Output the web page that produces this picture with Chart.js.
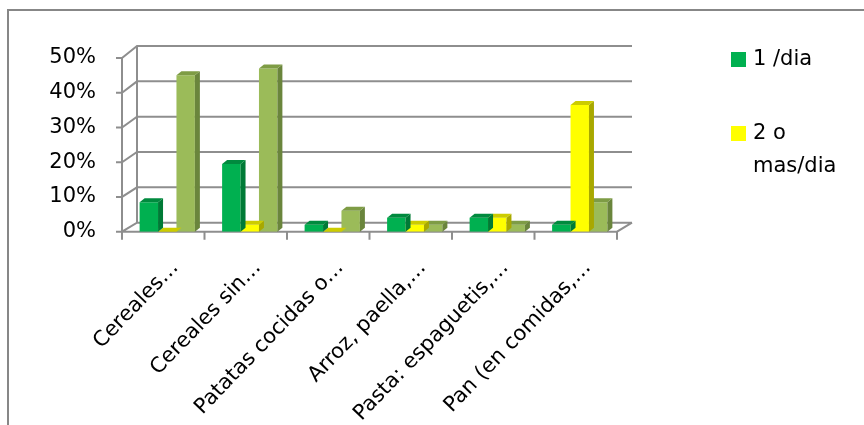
<!DOCTYPE html>
<html lang="es">
<head>
<meta charset="UTF-8">
<title>Consumo de cereales y derivados</title>
<script src="https://cdn.jsdelivr.net/npm/chart.js"></script>
<style>
  body { margin: 0; background: #fff; }
  #marco { position: absolute; left: 7px; top: 9px; width: 900px; height: 500px;
           border-top: 2px solid #878787; border-left: 2px solid #878787; }
  #grafico { position: absolute; left: 0; top: 0; }
</style>
</head>
<body>
<div id="marco"></div>
<canvas id="grafico" width="864" height="425"></canvas>
<script>
// categorias y porcentajes por frecuencia de consumo
const categorias = ['Cereales…', 'Cereales sin…', 'Patatas cocidas o…', 'Arroz, paella,…', 'Pasta: espaguetis,…', 'Pan (en comidas,…'];
const unaDia = [8.5, 19.5, 2, 4, 4, 2];
const dosOMasDia = [0, 2, 0, 2, 4, 36.5];
const otraFrecuencia = [45, 47, 6, 2, 2, 8.5];
const ticksY = [0, 10, 20, 30, 40, 50];

const fuente = 'DejaVu Sans';
const colorRejilla = '#8e8e8e';
const prof = { dx: 5, dy: -4 };           // fondo de cada columna
const pared = { dx: 15, dyAbajo: -9, dyArriba: -12 };
const desplCol = 4;                       // columnas algo metidas hacia el fondo

// pared del fondo, pared izquierda y suelo
const paredes = {
  id: 'paredes',
  beforeDatasetsDraw(chart) {
    const { ctx, chartArea: { left, right, bottom } } = chart;
    const y = chart.scales.y;
    const yFondo = v => y.getPixelForValue(v) + pared.dyAbajo + (pared.dyArriba - pared.dyAbajo) * v / 50;
    ctx.save();
    ctx.strokeStyle = colorRejilla;
    ctx.lineWidth = 2;
    ctx.beginPath();
    ticksY.forEach(v => {
      const yf = y.getPixelForValue(v);
      ctx.moveTo(left - 6, yf);
      ctx.lineTo(left, yf);
      ctx.lineTo(left + pared.dx, yFondo(v));
      ctx.lineTo(right + pared.dx, yFondo(v));
    });
    ctx.moveTo(left, y.getPixelForValue(50));
    ctx.lineTo(left, bottom);
    ctx.moveTo(left + pared.dx, yFondo(50));
    ctx.lineTo(left + pared.dx, yFondo(0));
    ctx.moveTo(left, bottom);
    ctx.lineTo(right, bottom);
    ctx.lineTo(right + pared.dx, yFondo(0));
    for (let i = 0; i <= categorias.length; i++) {
      const xc = left + (right - left) * i / categorias.length;
      ctx.moveTo(xc, bottom);
      ctx.lineTo(xc, bottom + 8);
    }
    ctx.stroke();
    ctx.restore();
  }
};

// cara superior y lateral de cada columna
const caras = {
  id: 'caras',
  beforeDatasetDraw(chart) {
    chart.ctx.save();
    chart.ctx.translate(desplCol, 0);
  },
  afterDatasetDraw(chart, args) {
    const { ctx } = chart;
    const ds = chart.data.datasets[args.index];
    args.meta.data.forEach(el => {
      const { x, y, base, width } = el.getProps(['x', 'y', 'base', 'width'], true);
      const l = x - width / 2, r = x + width / 2;
      ctx.fillStyle = ds.colorLado;
      ctx.beginPath();
      ctx.moveTo(r, y);
      ctx.lineTo(r + prof.dx, y + prof.dy);
      ctx.lineTo(r + prof.dx, base + prof.dy);
      ctx.lineTo(r, base);
      ctx.closePath();
      ctx.fill();
      ctx.fillStyle = ds.colorTapa;
      ctx.beginPath();
      ctx.moveTo(l, y);
      ctx.lineTo(r, y);
      ctx.lineTo(r + prof.dx, y + prof.dy);
      ctx.lineTo(l + prof.dx, y + prof.dy);
      ctx.closePath();
      ctx.fill();
    });
    ctx.restore();
  }
};

// leyenda a la derecha, con ajuste de linea
const leyenda = {
  id: 'leyenda',
  afterDraw(chart) {
    const { ctx } = chart;
    ctx.save();
    ctx.font = '21px "' + fuente + '"';
    ctx.textBaseline = 'middle';
    const anchoMax = 100;
    chart.data.datasets.slice(0, 2).forEach((ds, i) => {
      const yTop = 52 + i * 74;
      ctx.fillStyle = ds.backgroundColor;
      ctx.fillRect(731, yTop, 15, 15);
      const lineas = [];
      let actual = '';
      ds.label.split(' ').forEach(p => {
        const prueba = actual ? actual + ' ' + p : p;
        if (ctx.measureText(prueba).width > anchoMax && actual) {
          lineas.push(actual);
          actual = p;
        } else {
          actual = prueba;
        }
      });
      lineas.push(actual);
      ctx.fillStyle = '#000';
      lineas.forEach((t, j) => ctx.fillText(t, 753, yTop + 8 + j * 33));
    });
    ctx.restore();
  }
};

new Chart(document.getElementById('grafico'), {
  type: 'bar',
  data: {
    labels: categorias,
    datasets: [
      { label: '1 /dia', data: unaDia, backgroundColor: '#00b050', colorTapa: '#008a3e', colorLado: '#007a36' },
      { label: '2 o mas/dia', data: dosOMasDia, backgroundColor: '#ffff00', colorTapa: '#cccc00', colorLado: '#a8a800' },
      { label: 'Otra', data: otraFrecuencia, backgroundColor: '#9bbb59', colorTapa: '#7e9c45', colorLado: '#6a853c' }
    ]
  },
  options: {
    responsive: false,
    animation: false,
    layout: { padding: { left: 0, top: 58, right: 247, bottom: 0 } },
    datasets: { bar: { categoryPercentage: 0.67, barPercentage: 1 } },
    plugins: { legend: { display: false }, tooltip: { enabled: false } },
    scales: {
      y: {
        min: 0, max: 50,
        afterFit: s => { s.width = 122; },
        afterBuildTicks: s => { s.ticks = ticksY.map(v => ({ value: v })); },
        grid: { display: false, drawTicks: false },
        border: { display: false },
        ticks: { padding: 26, color: '#000', font: { family: fuente, size: 21 }, callback: v => v + '%' }
      },
      x: {
        afterFit: s => { s.height = 425 - 231.7; },
        grid: { display: false, drawTicks: false },
        border: { display: false },
        ticks: { padding: 24, labelOffset: 12, color: '#000', autoSkip: false, minRotation: 46, maxRotation: 46,
                 font: { family: fuente, size: 21 } }
      }
    }
  },
  plugins: [paredes, caras, leyenda]
});
</script>
</body>
</html>
